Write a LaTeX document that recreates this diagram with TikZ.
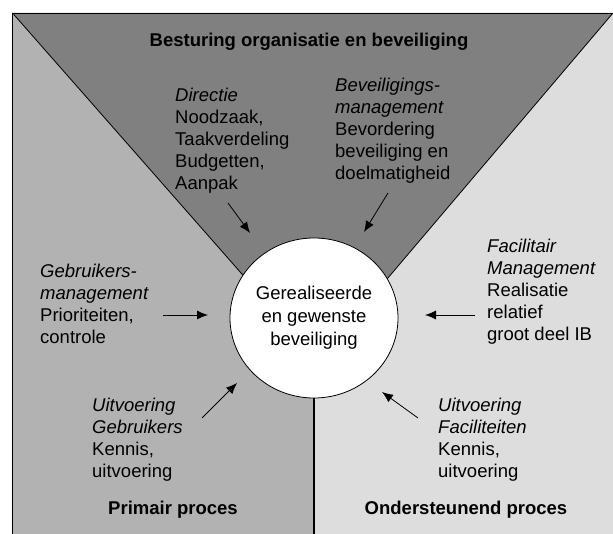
\documentclass[tikz,border=0pt]{standalone}
\usepackage{fontspec}
\setmainfont{Liberation Sans}
\usetikzlibrary{arrows.meta,shapes.geometric}
\definecolor{topg}{HTML}{808080}
\definecolor{leftg}{HTML}{B2B2B2}
\definecolor{rightg}{HTML}{DDDDDD}
\begin{document}
\begin{tikzpicture}[x=1pt,y=-1pt,
  txt/.style={font=\fontsize{18.5}{22}\selectfont, inner sep=0pt, align=left, anchor=north west},
  ttl/.style={font=\fontsize{18.5}{22}\selectfont\bfseries, inner sep=0pt},
  arr/.style={-{Latex[length=11pt,width=9pt]}, line width=0.8pt},
  edgeline/.style={line width=0.8pt}]
\useasboundingbox (0,0) rectangle (613,534);
\fill[white] (0,0) rectangle (613,534);
% regions
\fill[leftg] (12.5,13) -- (314,356) -- (314,534) -- (12.5,534) -- cycle;
\fill[rightg] (613,13) -- (314,365) -- (314,534) -- (613,534) -- cycle;
\fill[topg] (12.5,13) -- (613,13) -- (314,365) -- (314,356) -- cycle;
\draw[edgeline] (12.5,534) -- (12.5,13) -- (613,13);
\draw[edgeline] (12.5,13) -- (314,356);
\draw[edgeline] (613,13) -- (314,365);
% central node
\node[ellipse, draw, line width=0.8pt, fill=white, minimum width=168pt, minimum height=160pt,
      inner sep=0pt, align=center, font=\fontsize{18.5}{23}\selectfont] (core) at (314,318)
  {Gerealiseerde\\en gewenste\\beveiliging};
\coordinate (bot) at (314,534);
\draw[line width=2pt] (core.south) -- (bot);
% titles
\node[ttl] (title) at (309,42) {Besturing organisatie en beveiliging};
\node[ttl] (prim) at (173,510) {Primair proces};
\node[ttl] (onder) at (466,510) {Ondersteunend proces};
% text blocks
\node[txt] (dir) at (175,88) {\textit{Directie}\\Noodzaak,\\Taakverdeling\\Budgetten,\\Aanpak};
\node[txt] (bev) at (335,78) {\textit{Beveiligings-}\\\textit{management}\\Bevordering\\beveiliging en\\doelmatigheid};
\node[txt] (geb) at (40,264) {\textit{Gebruikers-}\\\textit{management}\\Prioriteiten,\\controle};
\node[txt] (fac) at (487,239) {\textit{Facilitair}\\\textit{Management}\\Realisatie\\relatief\\groot deel IB};
\node[txt] (uge) at (92,398) {\textit{Uitvoering}\\\textit{Gebruikers}\\Kennis,\\uitvoering};
\node[txt] (ufa) at (438,398) {\textit{Uitvoering}\\\textit{Faciliteiten}\\Kennis,\\uitvoering};
% arrows
\coordinate (a1s) at (228,203); \coordinate (a1e) at (250,233);
\coordinate (a2s) at (388,193); \coordinate (a2e) at (364,232);
\coordinate (a3s) at (163,315); \coordinate (a3e) at (208,315);
\coordinate (a4s) at (475,315); \coordinate (a4e) at (425,315);
\coordinate (a5s) at (202,418); \coordinate (a5e) at (237,383);
\coordinate (a6s) at (418,418); \coordinate (a6e) at (382,392);
\draw[arr] (a1s) -- (a1e);
\draw[arr] (a2s) -- (a2e);
\draw[arr] (a3s) -- (a3e);
\draw[arr] (a4s) -- (a4e);
\draw[arr] (a5s) -- (a5e);
\draw[arr] (a6s) -- (a6e);
\end{tikzpicture}
\end{document}
